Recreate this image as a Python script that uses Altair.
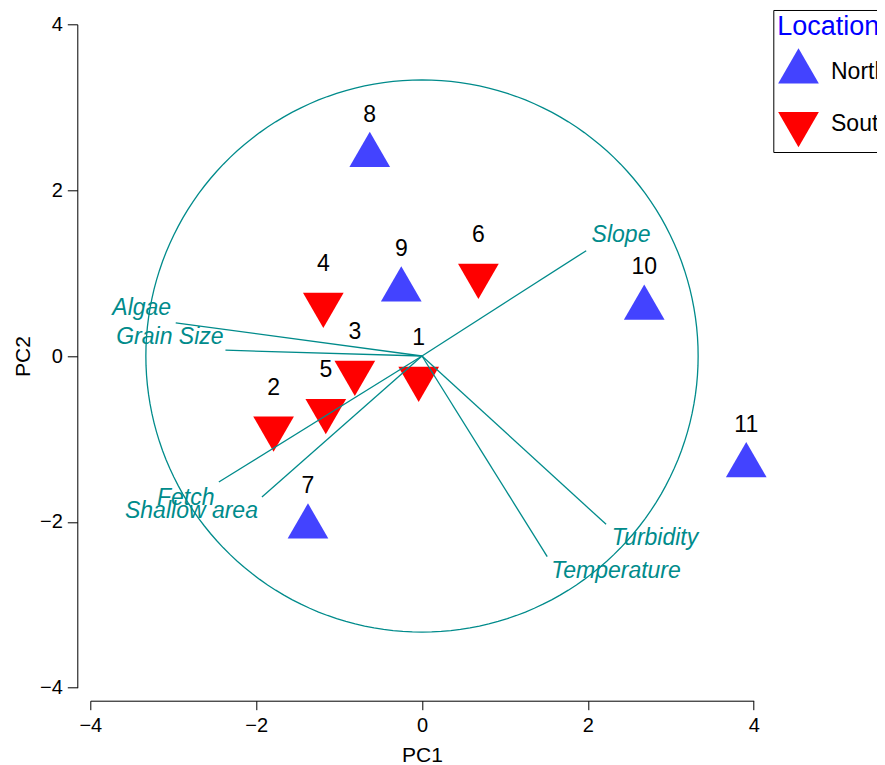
import altair as alt
import pandas as pd

# ---- data ----
site_ids = ["1", "2", "3", "4", "5", "6", "7", "8", "9", "10", "11"]
pc1 = [-0.04, -1.79, -0.81, -1.19, -1.16, 0.68, -1.375, -0.63, -0.25, 2.68, 3.91]
pc2 = [-0.27, -0.87, -0.20, 0.62, -0.66, 0.97, -2.06, 2.42, 0.80, 0.58, -1.32]
location = ["South", "South", "South", "South", "South", "South",
            "North", "North", "North", "North", "North"]

var_names = ["Slope", "Algae", "Grain Size", "Fetch", "Shallow area", "Turbidity", "Temperature"]
var_x = [1.98, -2.97, -2.37, -2.45, -1.93, 2.22, 1.51]
var_y = [1.27, 0.40, 0.07, -1.52, -1.70, -2.03, -2.42]
lab_x = [2.40, -3.38, -3.04, -2.85, -2.78, 2.81, 2.34]
lab_y = [1.46, 0.58, 0.23, -1.71, -1.87, -2.20, -2.59]

circle_radius = 3.33
axis_ticks = [-4, -2, 0, 2, 4]

TEAL = "#008B8B"
FONT = "Liberation Sans"

points = pd.DataFrame({"id": site_ids, "PC1": pc1, "PC2": pc2, "Location": location})
vectors = pd.DataFrame({"name": var_names, "x0": [0.0] * len(var_names), "y0": [0.0] * len(var_names),
                        "x": var_x, "y": var_y, "lx": lab_x, "ly": lab_y})

W = 663.4
H = 663.4
TOTAL_W = 869
TOTAL_H = 757
xs = alt.Scale(domain=[-4, 4], nice=False, zero=False)
ys = alt.Scale(domain=[-4, 4], nice=False, zero=False)

x_axis = alt.Axis(values=axis_ticks, format="d", offset=13, tickSize=9, labelPadding=6,
                  titlePadding=9, labelFlush=False, labelOverlap=False, grid=False,
                  labelFontSize=20, titleFontSize=21, titleFontWeight="normal",
                  labelFont=FONT, titleFont=FONT, domainColor="black", tickColor="black",
                  labelColor="black", titleColor="black")
y_axis = alt.Axis(values=axis_ticks, format="d", offset=13, tickSize=10, labelPadding=5,
                  titlePadding=5.5, labelFlush=False, labelOverlap=False, grid=False,
                  labelFontSize=20, titleFontSize=21, titleFontWeight="normal",
                  labelFont=FONT, titleFont=FONT, domainColor="black", tickColor="black",
                  labelColor="black", titleColor="black")

X = lambda f: alt.X(f, scale=xs, axis=x_axis, title="PC1")
Y = lambda f: alt.Y(f, scale=ys, axis=y_axis, title="PC2")

UP = "M0,-1L0.866,0.5L-0.866,0.5Z"
DOWN = "M0,1L0.866,-0.5L-0.866,-0.5Z"

legend = alt.Legend(title="Location", orient="none", legendX=683, legendY=-14.3,
                    titleColor="#0000FF", titleFontSize=27, titleFontWeight="normal", titleFont=FONT,
                    titlePadding=7.2, labelFontSize=23, labelFont=FONT, labelColor="black",
                    strokeColor="black", fillColor="white", padding=4, cornerRadius=0,
                    symbolSize=2209, symbolStrokeWidth=0, symbolOffset=-2.3, labelOffset=9,
                    rowPadding=16)

circle = alt.Chart(alt.sequence(0, 361, 2, as_="deg")).transform_calculate(
    cx=f"{circle_radius} * cos(datum.deg * PI / 180)",
    cy=f"{circle_radius} * sin(datum.deg * PI / 180)",
).mark_line(color=TEAL, strokeWidth=1.3).encode(
    x=X("cx:Q"),
    y=Y("cy:Q"),
    order=alt.Order("deg:Q"),
)

tri = alt.Chart(points).mark_point(filled=True, opacity=1, size=2209, strokeWidth=0).encode(
    x=X("PC1:Q"),
    y=Y("PC2:Q"),
    color=alt.Color("Location:N", scale=alt.Scale(domain=["North", "South"], range=["#4343FF", "#FF0000"]),
                    legend=legend),
    shape=alt.Shape("Location:N", scale=alt.Scale(domain=["North", "South"], range=[UP, DOWN]),
                    legend=legend),
)

pt_labels = alt.Chart(points).mark_text(dy=-40.5, fontSize=23, font=FONT, color="black",
                                        baseline="middle", align="center").encode(
    x=X("PC1:Q"),
    y=Y("PC2:Q"),
    text="id:N",
)

arrows = alt.Chart(vectors).mark_rule(color=TEAL, strokeWidth=1.3).encode(
    x=X("x0:Q"),
    y=Y("y0:Q"),
    x2="x:Q",
    y2="y:Q",
)

var_labels = alt.Chart(vectors).mark_text(fontSize=23, font=FONT, fontStyle="italic", color=TEAL,
                                          baseline="middle", align="center").encode(
    x=X("lx:Q"),
    y=Y("ly:Q"),
    text="name:N",
)

chart = alt.layer(circle, tri, pt_labels, arrows, var_labels).properties(
    width=W, height=H,
    background="white",
    autosize=alt.AutoSizeParams(type="none"),
    padding={"left": 82.3, "top": 16.3, "right": TOTAL_W - 82.3 - W, "bottom": TOTAL_H - 16.3 - H},
).configure_view(strokeWidth=0, stroke="transparent").configure_axis(
    grid=False, labelFontSize=20, titleFontSize=21, titleFontWeight="normal",
    labelFont=FONT, titleFont=FONT, domainColor="black", tickColor="black",
    labelColor="black", titleColor="black", domainWidth=1, tickWidth=1,
)

chart.save("out.html", embed_options={"renderer": "svg", "actions": False})
